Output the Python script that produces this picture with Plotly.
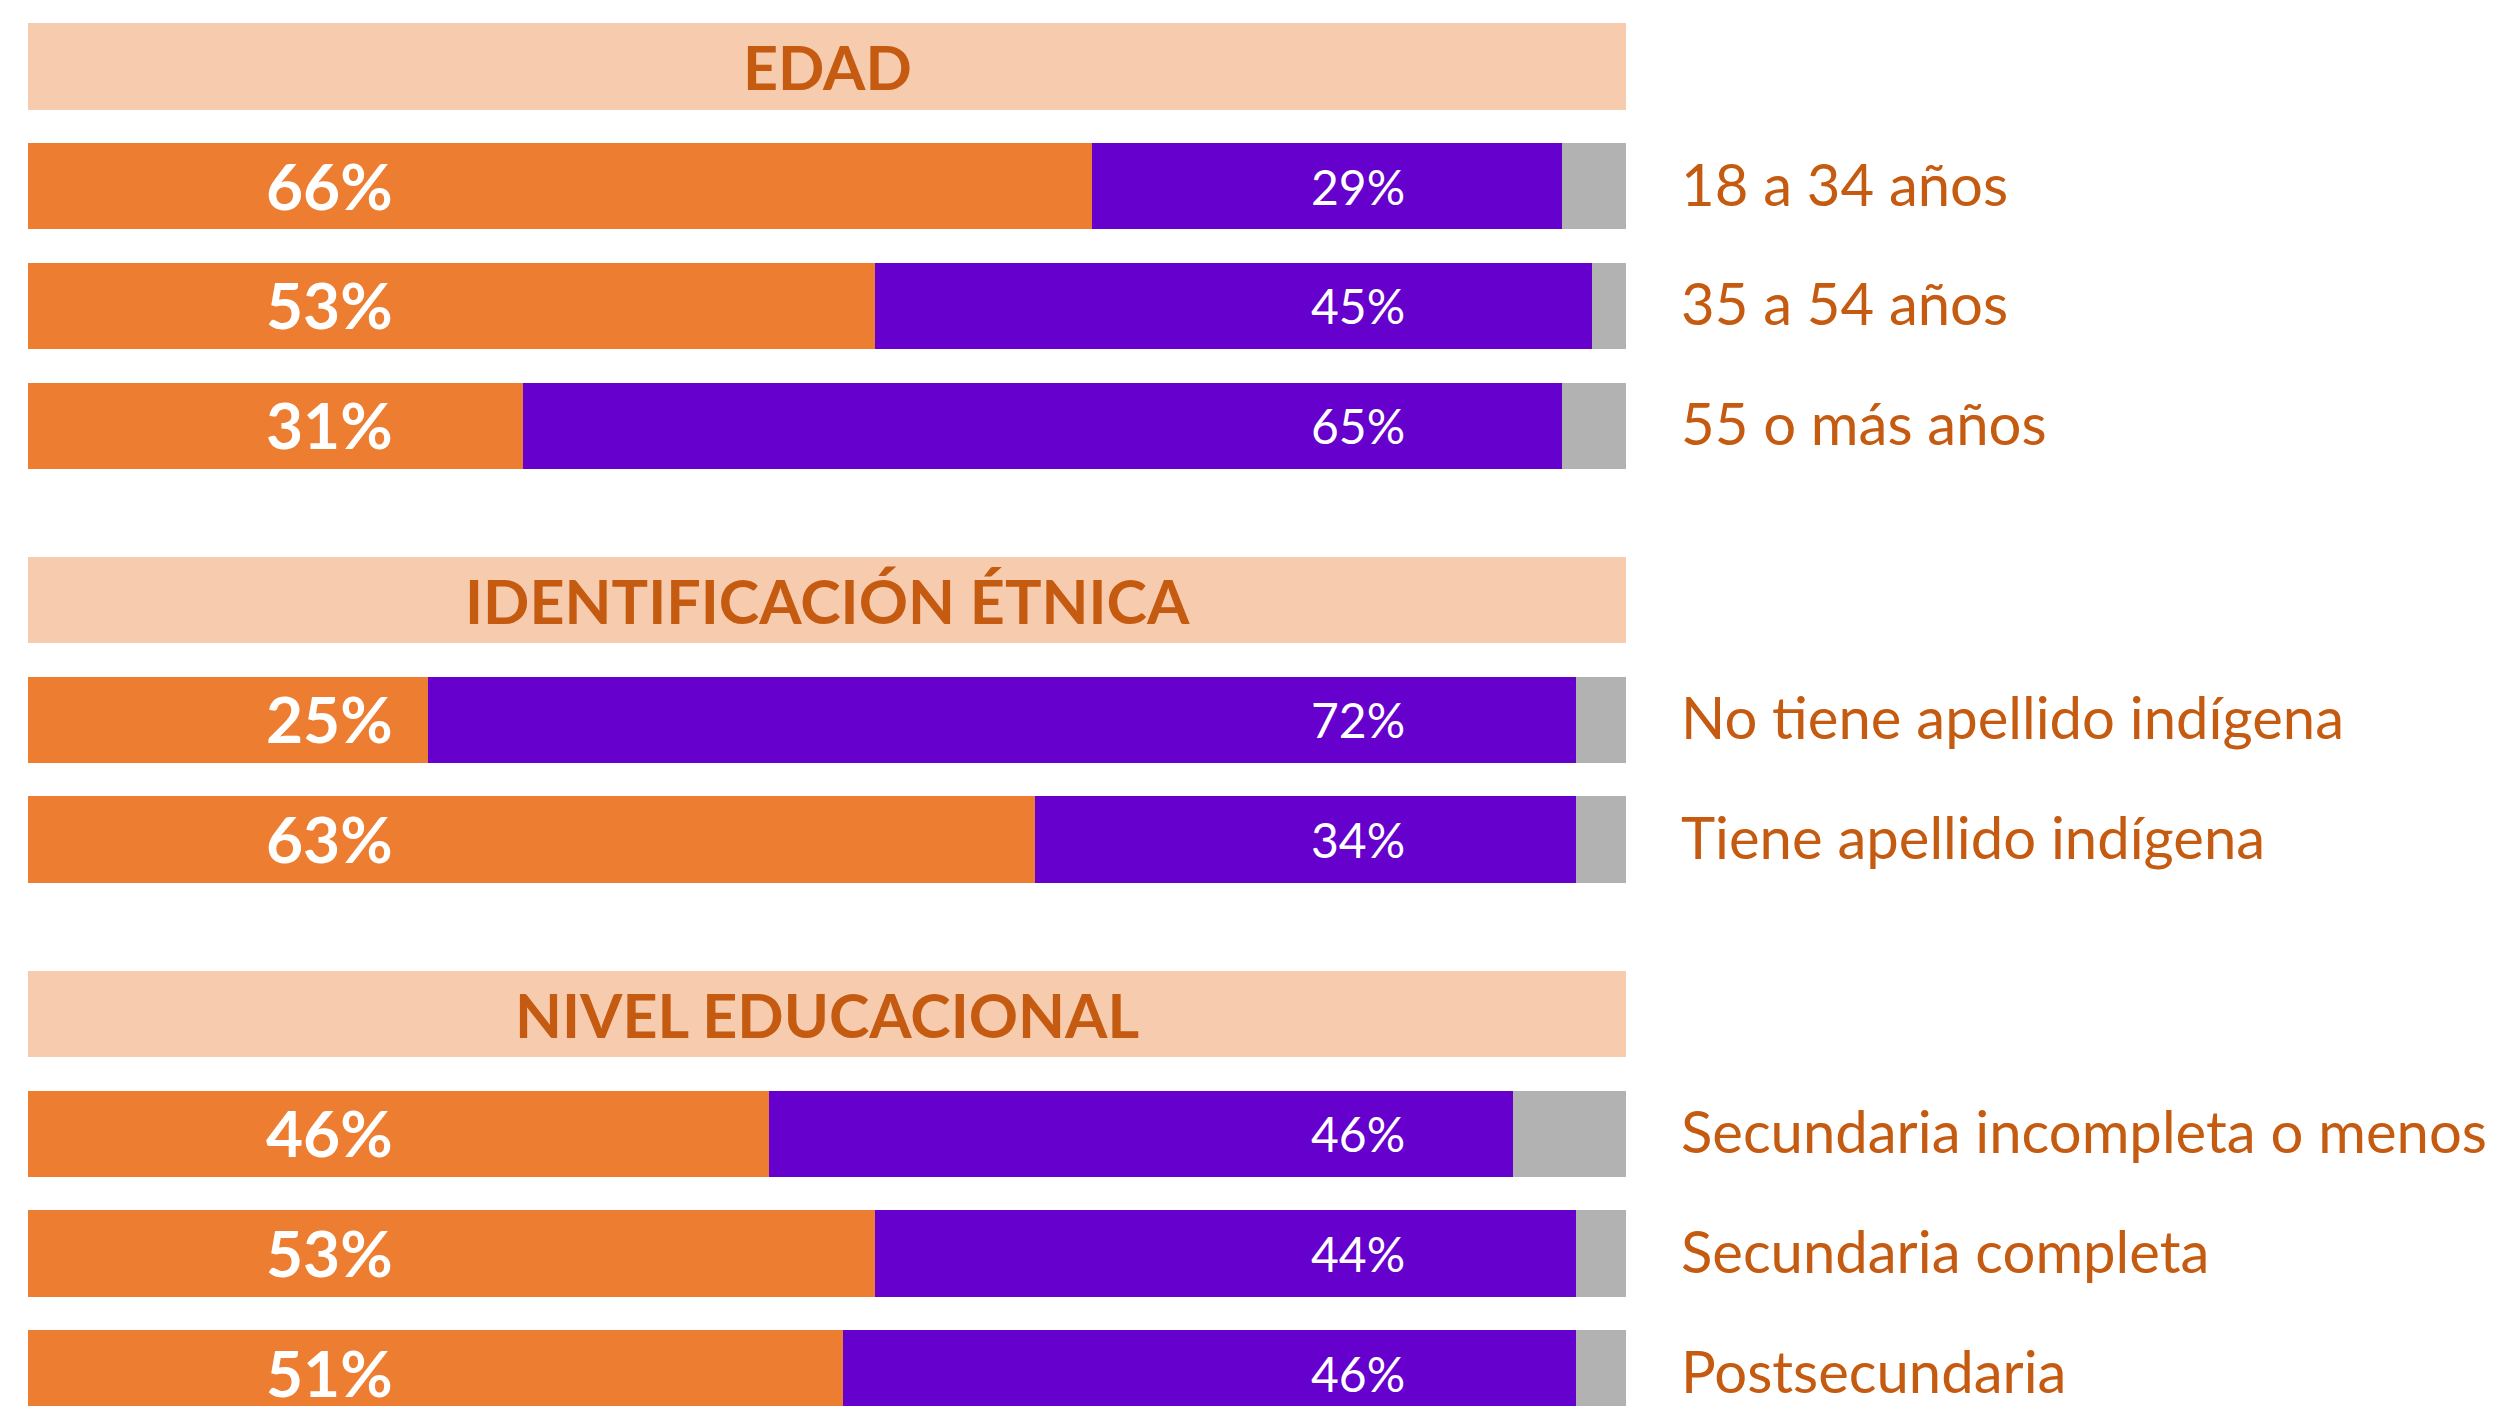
import plotly.graph_objects as go

# ---- data ----
group_titles = ["EDAD", "IDENTIFICACIÓN ÉTNICA", "NIVEL EDUCACIONAL"]
group_categories = [
    ["18 a 34 años", "35 a 54 años", "55 o más años"],
    ["No tiene apellido indígena", "Tiene apellido indígena"],
    ["Secundaria incompleta o menos", "Secundaria completa", "Postsecundaria"],
]
# bar lengths (%)
orange_values = [66.6, 53.0, 31.0, 25.0, 63.0, 46.4, 53.0, 51.0]
purple_values = [29.4, 44.9, 65.0, 71.9, 33.9, 46.5, 43.9, 45.9]
# printed labels
orange_labels = ["66%", "53%", "31%", "25%", "63%", "46%", "53%", "51%"]
purple_labels = ["29%", "45%", "65%", "72%", "34%", "46%", "44%", "46%"]

# ---- style ----
C_ORANGE = "#ED7D31"
C_PURPLE = "#6600CC"
C_GRAY = "#B2B2B3"
C_HEAD_BG = "#F7CBAD"
C_TEXT = "#C55A11"
FONT = "Lato"

W, H = 2504, 1406
GROUP_GAP = 0.458      # extra spacing between groups (in row units)
BAR_W = 0.72
PX_PER_ROW = 119.7
FIRST_ROW_PX = 66.5
LEFT_PX = 28
PX_PER_PCT = 15.98

# ---- layout positions (computed from structure) ----
header_y, row_y, row_labels = [], [], []
pos = 0.0
for gi, (title, cats) in enumerate(zip(group_titles, group_categories)):
    if gi > 0:
        pos += GROUP_GAP
    header_y.append(pos)
    pos += 1
    for c in cats:
        row_y.append(pos)
        row_labels.append(c)
        pos += 1

gray_values = [100 - a - b for a, b in zip(orange_values, purple_values)]

fig = go.Figure()
fig.add_trace(go.Bar(y=header_y, x=[100] * len(header_y), orientation="h",
                     marker=dict(color=C_HEAD_BG, line_width=0), width=BAR_W,
                     base=0, hoverinfo="skip", showlegend=False))
fig.add_trace(go.Bar(y=row_y, x=orange_values, orientation="h", base=0,
                     marker=dict(color=C_ORANGE, line_width=0), width=BAR_W,
                     showlegend=False))
fig.add_trace(go.Bar(y=row_y, x=purple_values, orientation="h", base=orange_values,
                     marker=dict(color=C_PURPLE, line_width=0), width=BAR_W,
                     showlegend=False))
fig.add_trace(go.Bar(y=row_y, x=gray_values, orientation="h",
                     base=[a + b for a, b in zip(orange_values, purple_values)],
                     marker=dict(color=C_GRAY, line_width=0), width=BAR_W,
                     showlegend=False))

annotations = []
for t, y in zip(group_titles, header_y):
    annotations.append(dict(x=50, y=y, text=t, showarrow=False, xanchor="center",
                            yanchor="middle",
                            font=dict(family=FONT, size=61, color=C_TEXT, weight="bold")))
for y, ol, pl, lab in zip(row_y, orange_labels, purple_labels, row_labels):
    annotations.append(dict(x=18.84, y=y, text=ol, showarrow=False, xanchor="center",
                            yanchor="middle", yshift=1,
                            font=dict(family=FONT, size=64, color="white", weight="bold")))
    annotations.append(dict(x=83.2, y=y, text=pl, showarrow=False, xanchor="center",
                            yanchor="middle",
                            font=dict(family=FONT, size=48, color="white")))
    annotations.append(dict(x=103.3, y=y, text=lab, showarrow=False, xanchor="left",
                            yanchor="middle", yshift=3,
                            font=dict(family=FONT, size=58, color=C_TEXT)))

x_max = (W - LEFT_PX) / PX_PER_PCT
y_top = -FIRST_ROW_PX / PX_PER_ROW
y_bot = (H - FIRST_ROW_PX) / PX_PER_ROW

fig.update_layout(
    width=W, height=H,
    margin=dict(l=LEFT_PX, r=0, t=0, b=0),
    paper_bgcolor="white", plot_bgcolor="white",
    barmode="overlay", bargap=0,
    xaxis=dict(range=[0, x_max], visible=False, fixedrange=True),
    yaxis=dict(range=[y_bot, y_top], visible=False, fixedrange=True),
    annotations=annotations,
    font=dict(family=FONT),
)

fig.write_html("out.html",
               config={"displayModeBar": False},
               post_script="document.body.style.margin='0';document.body.style.overflow='hidden';")
